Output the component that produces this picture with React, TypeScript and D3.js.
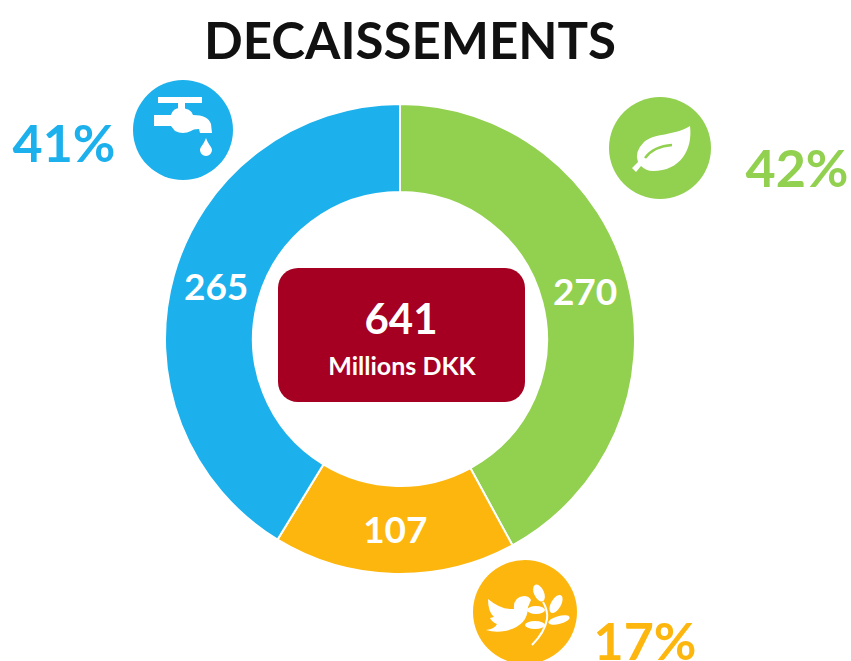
import React from "react";
import { arc, pie } from "d3";

const width = 851;
const height = 661;
const font = "Lato, sans-serif";

const title = "DECAISSEMENTS";
const categories = ["green", "yellow", "blue"];
const values = [270, 107, 265];
const percents = ["42%", "17%", "41%"];
const colors = ["#92d050", "#fdb60d", "#1cb0ec"];
const totalLabel = "641";
const unitLabel = "Millions DKK";

const center = { x: 400, y: 339 };
const outerRadius = 235;
const innerRadius = 147;

const pieLayout = pie<number>().sort(null);
const slices = pieLayout(values);
const arcPath = arc<any>().innerRadius(innerRadius).outerRadius(outerRadius);

const TapIcon = () => (
  <g fill="#fff">
    <rect x={-25} y={-33} width={44} height={6} />
    <rect x={-5} y={-27} width={7} height={9} />
    <path d="M-29,-15 L-12,-15 Q-10,-22 -3,-22 Q8,-22 10,-15 Q25,-15 28,-6 L29,3 L17,3 L16,-1 Q10,-1 8,1 Q0,5 -8,1 L-12,-4 L-29,-4 Z" />
    <path d="M23,8 C25,14 29,17 29,20 A6,6 0 0 1 17,20 C17,17 21,14 23,8 Z" />
  </g>
);

const LeafIcon = () => (
  <g>
    <path
      fill="#fff"
      d="M30,-22 C33,2 20,23 -7,23 Q-14,23 -19,18 L-24,24 L-28,20 L-22,14 Q-26,4 -16,-6 C-6,-15 14,-12 30,-22 Z"
    />
    <path d="M-15,10 Q-6,-2 12,-3" fill="none" stroke="#92d050" strokeWidth={2.5} />
  </g>
);

const BirdIcon = () => (
  <g fill="#fff">
    <path d="M-37,-13 Q-24,-2 -11,-3 Q-12,-15 -1,-16 Q4,-16 6,-12 L3,-5 Q3,14 -20,19 Q-30,21 -39,18 Q-30,17 -28,12 Q-33,10 -35,6 L-31,5 Q-37,0 -37,-13 Z" />
    <path d="M7,33 Q20,20 22,7 Q23,-2 18,-10" fill="none" stroke="#fff" strokeWidth={2} />
    <ellipse cx={14} cy={-19} rx={5} ry={9} transform="rotate(-25 14 -19)" />
    <ellipse cx={31} cy={-8} rx={5} ry={10} transform="rotate(30 31 -8)" />
    <ellipse cx={11} cy={-2} rx={9} ry={4} />
    <ellipse cx={34} cy={8} rx={11} ry={4} transform="rotate(-15 34 8)" />
    <ellipse cx={10} cy={13} rx={10} ry={4} />
  </g>
);

const icons = [
  { key: "green", x: 660, y: 148, r: 51, Icon: LeafIcon },
  { key: "yellow", x: 525, y: 612, r: 52, Icon: BirdIcon },
  { key: "blue", x: 183, y: 130, r: 50, Icon: TapIcon }
];

const percentPos = [
  { x: 797, y: 187 },
  { x: 645, y: 660 },
  { x: 64, y: 162 }
];

export default function App() {
  return (
    <svg
      width={width}
      height={height}
      viewBox={`0 0 ${width} ${height}`}
      style={{ position: "absolute", left: 0, top: 0, background: "#fff" }}
      fontFamily={font}
      fontWeight={700}
    >
      <text x={410} y={59} textAnchor="middle" fontSize={51} fill="#111">
        {title}
      </text>

      <g transform={`translate(${center.x},${center.y})`}>
        {slices.map((s, i) => (
          <path key={categories[i]} d={arcPath(s) as string} fill={colors[i]} stroke="#fff" strokeWidth={2} />
        ))}
        {slices.map((s, i) => {
          const [cx, cy] = arcPath.centroid(s);
          return (
            <text key={categories[i]} x={cx} y={cy + 13} textAnchor="middle" fontSize={37} fill="#fff">
              {values[i]}
            </text>
          );
        })}
      </g>

      <rect x={278} y={268} width={247} height={134} rx={20} fill="#a50021" />
      <text x={401} y={334} textAnchor="middle" fontSize={42} fill="#fff">
        {totalLabel}
      </text>
      <text x={402} y={375} textAnchor="middle" fontSize={25} fill="#fff">
        {unitLabel}
      </text>

      {icons.map(({ key, x, y, r, Icon }, i) => (
        <g key={key} transform={`translate(${x},${y})`}>
          <circle r={r} fill={colors[i]} />
          <Icon />
        </g>
      ))}

      {percents.map((p, i) => (
        <text key={p} x={percentPos[i].x} y={percentPos[i].y} textAnchor="middle" fontSize={52} fill={colors[i]}>
          {p}
        </text>
      ))}
    </svg>
  );
}
